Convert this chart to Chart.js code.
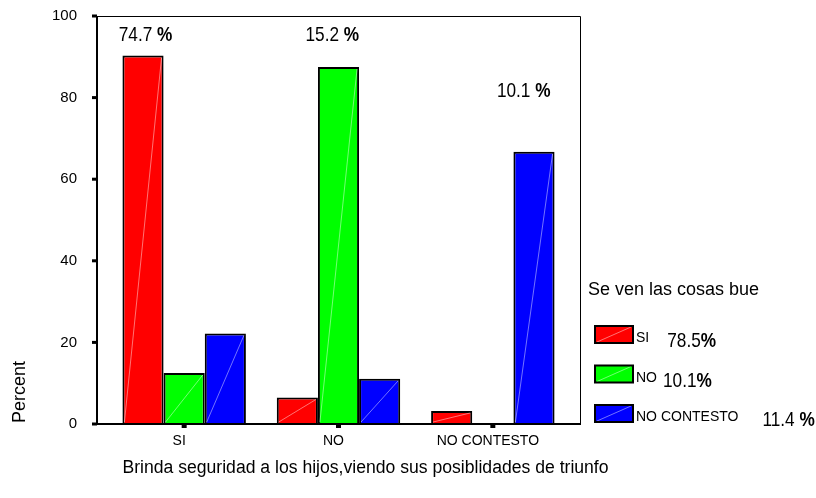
<!DOCTYPE html>
<html>
<head>
<meta charset="utf-8">
<script src="https://cdn.jsdelivr.net/npm/chart.js@4.4.1/dist/chart.umd.min.js"></script>
<style>
html, body { margin: 0; padding: 0; background: #fff; }
</style>
</head>
<body>
<canvas id="myChart" width="816" height="498"></canvas>
<script>
// data
const categories = ['SI', 'NO', 'NO CONTESTO'];
const seriesNames = ['SI', 'NO', 'NO CONTESTO'];
const siValues = [90.3, 6.5, 3.2];
const noValues = [12.5, 87.5, 0];
const ncValues = [22.2, 11.1, 66.7];
const yTicks = [0, 20, 40, 60, 80, 100];
const seriesShares = ['78.5', '10.1', '11.4 '];
const groupShares = ['74.7 ', '15.2 ', '10.1 '];
const legendTitle = 'Se ven las cosas bue';
const xTitle = 'Brinda seguridad a los hijos,viendo sus posiblidades de triunfo';
const yTitle = 'Percent';

const colors = ['#ff0000', '#00ff00', '#0000ff'];
const FONT = '"Liberation Sans", Arial, sans-serif';

// where the group share notes sit, in data units (category index + shift, value)
const notePos = [{ i: 0, dx: -0.25, y: 95.8 }, { i: 1, dx: -0.04, y: 95.8 }, { i: 2, dx: 0.2, y: 81.9 }];

function narrowText(ctx, txt, boldTail, x, y, size, align) {
  // narrow look (like Arial Narrow) by squeezing Liberation Sans
  const sx = 0.82;
  ctx.save();
  ctx.font = size + 'px ' + FONT;
  const w1 = ctx.measureText(txt).width;
  ctx.font = 'bold ' + size + 'px ' + FONT;
  const w2 = ctx.measureText(boldTail).width;
  const total = (w1 + w2) * sx;
  let x0 = align === 'center' ? x - total / 2 : x;
  ctx.translate(x0, y);
  ctx.scale(sx, 1);
  ctx.fillStyle = '#000';
  ctx.textBaseline = 'alphabetic';
  ctx.textAlign = 'left';
  ctx.font = size + 'px ' + FONT;
  ctx.fillText(txt, 0, 0);
  ctx.font = 'bold ' + size + 'px ' + FONT;
  ctx.fillText(boldTail, w1, 0);
  ctx.restore();
}

const decor = {
  id: 'decor',
  afterDatasetsDraw(chart) {
    const ctx = chart.ctx;
    chart.data.datasets.forEach((ds, di) => {
      chart.getDatasetMeta(di).data.forEach(bar => {
        const p = bar.getProps(['x', 'y', 'base', 'width'], true);
        if (p.base - p.y < 1) return;
        ctx.save();
        ctx.strokeStyle = 'rgba(255,255,255,0.45)';
        ctx.lineWidth = 1;
        ctx.beginPath();
        ctx.moveTo(p.x - p.width / 2 + 2, p.base - 2);
        ctx.lineTo(p.x + p.width / 2 - 2, p.y + 2);
        ctx.stroke();
        ctx.restore();
      });
    });
  },
  afterDraw(chart) {
    const ctx = chart.ctx;
    const a = chart.chartArea;
    const x = chart.scales.x, y = chart.scales.y;
    const L = a.left - 10, R = a.right + 10;
    ctx.save();
    ctx.strokeStyle = '#000';
    // frame
    ctx.lineWidth = 1;
    ctx.beginPath();
    ctx.moveTo(L, a.top + 0.5); ctx.lineTo(R + 0.5, a.top + 0.5); ctx.lineTo(R + 0.5, a.bottom);
    ctx.stroke();
    ctx.lineWidth = 2;
    ctx.beginPath();
    ctx.moveTo(L, a.top); ctx.lineTo(L, a.bottom); ctx.lineTo(R + 1, a.bottom);
    ctx.stroke();
    // tick marks
    ctx.fillStyle = '#000';
    yTicks.forEach(v => {
      const py = y.getPixelForValue(v);
      ctx.fillRect(L - 5, py - 1.5, 5, 3);
    });
    categories.forEach((c, i) => {
      const px = x.getPixelForValue(i);
      ctx.fillRect(px - 2.5, a.bottom, 5, 4);
    });
    // axis titles
    ctx.font = '17.6px ' + FONT;
    ctx.textAlign = 'center';
    ctx.textBaseline = 'middle';
    ctx.fillText(xTitle, 365.5, 468);
    ctx.font = '18px ' + FONT;
    ctx.save();
    ctx.translate(20, 392);
    ctx.rotate(-Math.PI / 2);
    ctx.fillText(yTitle, 0, 0);
    ctx.restore();
    // group share notes
    notePos.forEach((n, k) => {
      const px = x.getPixelForValue(n.i) + n.dx * (x.width / categories.length);
      const py = y.getPixelForValue(n.y);
      narrowText(ctx, groupShares[k], '%', px, py + 7.5, 21, 'center');
    });
    // legend
    const lx = 588;
    ctx.textAlign = 'left';
    ctx.textBaseline = 'middle';
    ctx.font = '18px ' + FONT;
    ctx.fillText(legendTitle, lx, 290);
    const shareGap = [18, 6, 24];
    seriesNames.forEach((name, k) => {
      const top = 326 + k * 39.5;
      ctx.fillStyle = colors[k];
      ctx.fillRect(595, top, 38, 17);
      ctx.strokeStyle = 'rgba(255,255,255,0.45)';
      ctx.lineWidth = 1;
      ctx.beginPath(); ctx.moveTo(597, top + 16); ctx.lineTo(631, top + 1); ctx.stroke();
      ctx.strokeStyle = '#000';
      ctx.lineWidth = 2;
      ctx.strokeRect(595, top, 38, 17);
      ctx.fillStyle = '#000';
      ctx.font = '14px ' + FONT;
      ctx.textBaseline = 'alphabetic';
      ctx.fillText(name, 636, top + 16);
      const w = ctx.measureText(name).width;
      narrowText(ctx, seriesShares[k], '%', 636 + w + shareGap[k], top + 21, 21, 'left');
    });
    ctx.restore();
  }
};

const ctx = document.getElementById('myChart');
const chart = new Chart(ctx, {
  type: 'bar',
  data: {
    labels: categories,
    datasets: [
      { label: seriesNames[0], data: siValues, backgroundColor: colors[0] },
      { label: seriesNames[1], data: noValues, backgroundColor: colors[1] },
      { label: seriesNames[2], data: ncValues, backgroundColor: colors[2] }
    ]
  },
  options: {
    responsive: false,
    animation: false,
    layout: { autoPadding: false, padding: { left: 0, right: 246, top: 16, bottom: 0 } },
    datasets: {
      bar: {
        categoryPercentage: 0.8,
        barPercentage: 1,
        borderColor: '#000',
        borderWidth: 2
      }
    },
    plugins: {
      legend: { display: false },
      title: { display: false },
      tooltip: { enabled: false }
    },
    scales: {
      x: {
        grid: { display: false, drawTicks: false },
        border: { display: false },
        ticks: { color: '#000', font: { family: FONT, size: 14 }, padding: 9, labelOffset: -5, maxRotation: 0 },
        afterFit: s => { s.height = 74; s.paddingLeft = 0; s.paddingRight = 0; }
      },
      y: {
        min: 0,
        max: 100,
        grid: { display: false, drawTicks: false },
        border: { display: false },
        ticks: { stepSize: 20, color: '#000', font: { family: FONT, size: 15 }, padding: 30 },
        afterFit: s => { s.width = 107; s.paddingTop = 0; s.paddingBottom = 0; }
      }
    }
  },
  plugins: [decor]
});
</script>
</body>
</html>
